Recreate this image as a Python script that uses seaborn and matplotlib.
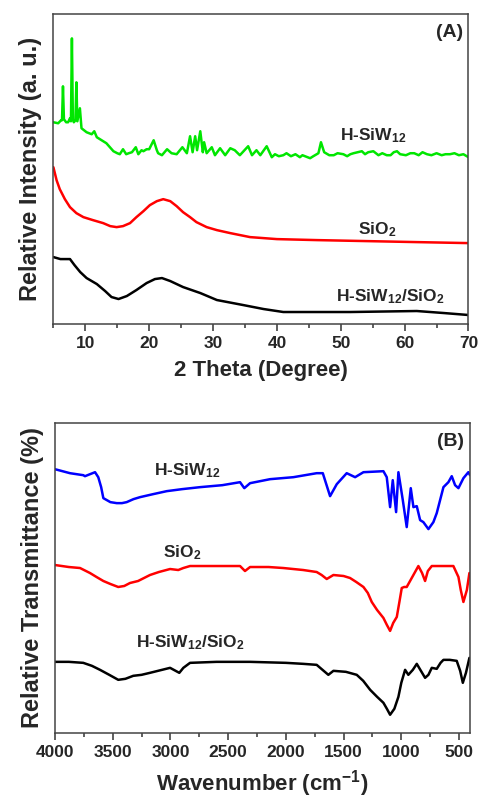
import numpy as np
import pandas as pd
import matplotlib
matplotlib.use("Agg")
import matplotlib.pyplot as plt
import seaborn as sns

# ---- XRD (panel A): 2 theta vs relative intensity (a.u.) ----
xrd_hsiw_2theta = [5.0, 5.75, 6.2, 6.35, 6.5, 6.65, 7.0, 7.3, 7.6, 7.75, 7.9, 8.05, 8.2,
                   8.45, 8.6, 8.75, 9.15, 9.4, 10.2, 11.0, 11.4, 11.8, 13.3, 14.4, 15.0,
                   15.4, 15.9, 16.4, 16.8, 17.3, 17.9, 18.3, 18.8, 19.1, 19.6, 20.0, 20.7,
                   21.2, 21.4, 22.0, 22.8, 23.5, 24.3, 25.2, 25.9, 26.4, 26.8, 27.2, 27.5,
                   28.0, 28.4, 28.6, 29.0, 29.8, 30.3, 31.1, 31.9, 32.7, 33.4, 34.2, 35.5,
                   36.1, 36.8, 37.4, 38.4, 39.2, 39.7, 40.3, 41.0, 41.5, 42.2, 42.9, 43.6,
                   44.0, 44.8, 45.2, 45.7, 46.5, 46.9, 47.4, 48.2, 48.9, 49.5, 50.4, 51.0,
                   51.5, 52.0, 53.3, 53.8, 54.3, 55.1, 55.9, 56.5, 57.2, 57.8, 58.3, 58.8,
                   59.3, 60.2, 60.9, 61.5, 62.2, 62.8, 63.5, 64.2, 65.0, 65.8, 66.4, 67.1,
                   67.8, 68.5, 69.2, 70.0]
xrd_hsiw_int = [202, 201, 204, 204, 238, 205, 202, 202, 206, 203, 286, 205, 202,
                204, 242, 203, 216, 196, 192, 190, 193, 187, 181, 173, 171,
                170, 175, 170, 171, 172, 177, 170, 174, 173, 175, 175, 184,
                174, 171, 169, 175, 171, 170, 177, 171, 188, 172, 188, 174,
                193, 172, 182, 171, 177, 169, 176, 169, 176, 174, 169, 178,
                169, 174, 169, 178, 167, 170, 168, 169, 171, 168, 170, 167,
                169, 167, 166, 168, 171, 182, 172, 169, 169, 171, 170, 168,
                170, 171, 173, 170, 172, 173, 169, 171, 169, 169, 172, 173,
                170, 169, 171, 171, 169, 172, 170, 169, 171, 169, 170, 170,
                171, 169, 170, 167]

xrd_sio2_2theta = [5.0, 5.5, 6.0, 6.8, 7.6, 8.6, 9.7, 11.2, 12.8, 13.9, 14.9, 15.9,
                   17.0, 18.0, 19.1, 20.1, 21.2, 22.2, 23.3, 24.3, 25.3, 26.4, 27.4,
                   29.0, 30.6, 32.7, 35.8, 40.0, 46.3, 54.1, 61.9, 70.0]
xrd_sio2_int = [157, 144, 135, 125, 117, 111, 107, 104, 101, 98, 97, 98,
                101, 107, 113, 119, 123, 125, 123, 118, 112, 107, 102,
                97, 94, 91, 87, 85, 84, 83, 82, 81]

xrd_comp_2theta = [5.0, 6.1, 6.8, 7.6, 8.3, 9.2, 10.2, 11.8, 13.1, 14.1, 15.2, 16.5,
                   18.0, 19.6, 20.9, 22.0, 23.3, 25.3, 28.0, 30.6, 34.7, 37.9, 41.0,
                   51.5, 61.9, 66.1, 70.0]
xrd_comp_int = [67, 65, 65, 65, 59, 52, 46, 40, 33, 27, 25, 28,
                34, 41, 45, 46, 43, 37, 31, 24, 19, 15, 12,
                12, 13, 11, 9]

# ---- FTIR (panel B): wavenumber vs relative transmittance ----
ir_hsiw_wn = [4000, 3870, 3755, 3740, 3653, 3625, 3600, 3581, 3520, 3465, 3420, 3379,
              3320, 3263, 3150, 3032, 2900, 2744, 2550, 2397, 2360, 2310, 2137, 1935,
              1733, 1680, 1617, 1559, 1473, 1400, 1328, 1155, 1126, 1097, 1074, 1045,
              1025, 987, 953, 918, 895, 866, 837, 809, 765, 722, 693, 635, 592, 563,
              534, 505, 462, 419, 405]
ir_hsiw_t = [264, 260, 258, 257, 261, 256, 246, 235, 231, 230, 230, 231,
             234, 236, 239, 242, 244, 246, 248, 251, 245, 250, 254, 256,
             260, 260, 237, 249, 260, 256, 261, 262, 256, 226, 253, 221,
             261, 233, 206, 245, 226, 227, 213, 211, 204, 211, 220, 246, 251, 257,
             248, 245, 255, 261, 258]

ir_sio2_wn = [4000, 3880, 3783, 3697, 3640, 3581, 3520, 3452, 3400, 3350, 3280, 3177,
              3100, 3003, 2932, 2888, 2830, 2600, 2397, 2354, 2310, 2150, 2022, 1850,
              1733, 1690, 1646, 1588, 1500, 1444, 1390, 1328, 1290, 1256, 1210, 1155,
              1125, 1097, 1070, 1039, 1015, 996, 975, 953, 900, 852, 820, 794, 770,
              736, 650, 549, 505, 485, 462, 432, 410]
ir_sio2_t = [168, 166, 165, 160, 156, 152, 149, 146, 147, 150, 152, 158,
             161, 164, 163, 165, 167, 167, 167, 162, 166, 166, 165, 163,
             161, 158, 154, 158, 157, 155, 151, 146, 140, 131, 123, 115,
             108, 102, 110, 116, 132, 145, 146, 146, 157, 167, 160, 152, 162,
             167, 167, 167, 156, 143, 131, 143, 160]

ir_comp_wn = [4000, 3880, 3755, 3680, 3610, 3530, 3452, 3390, 3322, 3250, 3177, 3003,
              2923, 2888, 2830, 2600, 2310, 2000, 1850, 1733, 1632, 1588, 1480, 1386,
              1330, 1270, 1210, 1155, 1125, 1097, 1060, 1025, 1000, 967, 939, 900,
              866, 830, 794, 765, 736, 693, 660, 635, 580, 520, 490, 467, 440, 410]
ir_comp_t = [71, 71, 70, 67, 63, 58, 53, 54, 57, 58, 60, 65,
             60, 65, 70, 71, 71, 70, 69, 68, 58, 62, 61, 58,
             52, 43, 36, 30, 24, 18, 24, 36, 50, 63, 58, 63,
             69, 62, 55, 58, 65, 64, 70, 73, 73, 72, 62, 50, 60, 75]

sns.set_style("ticks")
plt.rcParams['font.family'] = ['Liberation Sans', 'DejaVu Sans']
plt.rcParams['font.weight'] = 'bold'
plt.rcParams['mathtext.fontset'] = 'custom'
plt.rcParams['mathtext.rm'] = 'Liberation Sans:bold'
plt.rcParams['mathtext.it'] = 'Liberation Sans:bold'
plt.rcParams['mathtext.bf'] = 'Liberation Sans:bold'
plt.rcParams['mathtext.default'] = 'bf'

fig = plt.figure(figsize=(4.81, 8.0), dpi=100)
axA = fig.add_axes([0.111, 0.595, 0.863, 0.387])
axB = fig.add_axes([0.1143, 0.0841, 0.8628, 0.3868])

lw = 1.8
dA = [(xrd_hsiw_2theta, xrd_hsiw_int, '#00e600'),
      (xrd_sio2_2theta, xrd_sio2_int, '#ff0000'),
      (xrd_comp_2theta, xrd_comp_int, '#000000')]
for x, y, c in dA:
    sns.lineplot(x=x, y=y, ax=axA, color=c, lw=lw, estimator=None)

dB = [(ir_hsiw_wn, ir_hsiw_t, '#0000ff'),
      (ir_sio2_wn, ir_sio2_t, '#ff0000'),
      (ir_comp_wn, ir_comp_t, '#000000')]
for x, y, c in dB:
    sns.lineplot(x=x, y=y, ax=axB, color=c, lw=lw, estimator=None)

ylab_font = dict(family=['Liberation Sans'], weight='bold', size=17)

axA.set_xlim(5, 70)
axA.set_ylim(0, 310)
axA.set_xticks([10, 20, 30, 40, 50, 60, 70])
axA.set_xticks(np.arange(5, 70, 10), minor=True)
axA.set_xlabel('2 Theta (Degree)', fontsize=16, fontweight='bold', labelpad=6)
axA.set_ylabel('Relative Intensity (a. u.)', fontdict=ylab_font, labelpad=8)
axA.text(55.1, 189, 'H-SiW$_{12}$', fontsize=12.5, ha='center', va='center')
axA.text(55.7, 94, 'SiO$_2$', fontsize=12.5, ha='center', va='center')
axA.text(57.7, 27, 'H-SiW$_{12}$/SiO$_2$', fontsize=12.5, ha='center', va='center')
axA.text(67.1, 292, '(A)', fontsize=14, ha='center', va='center')

axB.set_xlim(4000, 405)
axB.set_ylim(0, 310)
axB.set_xticks([4000, 3500, 3000, 2500, 2000, 1500, 1000, 500])
axB.set_xticks(np.arange(3750, 400, -500), minor=True)
axB.set_xlabel('Wavenumber (cm$^{-1}$)', fontsize=16, fontweight='bold', labelpad=6)
axB.set_ylabel('Relative Transmittance (%)', fontdict=ylab_font, labelpad=8)
axB.text(2856, 263, 'H-SiW$_{12}$', fontsize=12.5, ha='center', va='center')
axB.text(2900, 180, 'SiO$_2$', fontsize=12.5, ha='center', va='center')
axB.text(2830, 90, 'H-SiW$_{12}$/SiO$_2$', fontsize=12.5, ha='center', va='center')
axB.text(577, 292, '(B)', fontsize=14, ha='center', va='center')

for ax in (axA, axB):
    ax.set_yticks([])
    ax.tick_params(axis='x', which='major', direction='out', length=5, width=1.1,
                   labelsize=12.5, pad=4, color='#333333')
    ax.tick_params(axis='x', which='minor', direction='out', length=3, width=1.1, color='#333333')
    for lab in ax.get_xticklabels():
        lab.set_fontweight('bold')
    for s in ax.spines.values():
        s.set_linewidth(1.1)
        s.set_color('#444444')

fig.savefig('out.png', dpi=100)
